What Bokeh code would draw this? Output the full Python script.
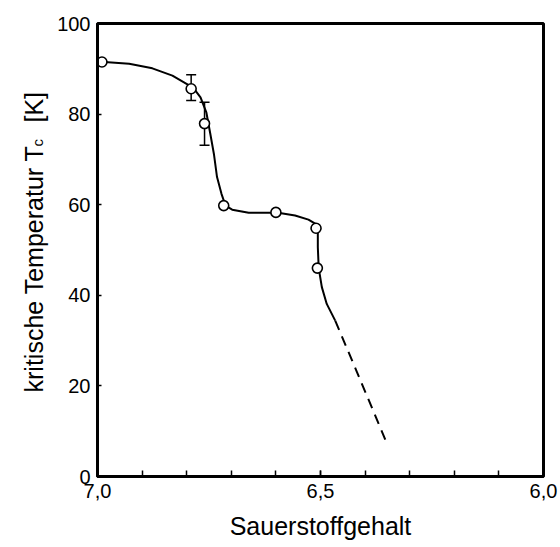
from math import pi
from bokeh.plotting import figure
from bokeh.layouts import row
from bokeh.models import (Range1d, FixedTicker, CustomJSTickFormatter, ColumnDataSource,
                          Whisker, TeeHead, Label)
from bokeh.embed import file_html
from bokeh.resources import INLINE

# measured points (oxygen content, Tc in K)
x_pts = [6.99, 6.79, 6.76, 6.717, 6.60, 6.51, 6.507]
y_pts = [91.5, 85.6, 77.9, 59.8, 58.3, 54.8, 46.0]

# error bars
x_err = [6.79, 6.76]
err_lower = [83.0, 73.1]
err_upper = [88.7, 82.6]

# guide curve (solid part)
x_curve = [7.000, 6.929, 6.877, 6.832, 6.785, 6.769, 6.756, 6.747, 6.739, 6.732,
           6.722, 6.713, 6.698, 6.661, 6.595, 6.557, 6.527, 6.512, 6.506, 6.506,
           6.504, 6.497, 6.486, 6.467]
y_curve = [91.6, 91.1, 90.1, 88.5, 85.8, 83.7, 80.4, 75.6, 71.2, 66.1,
           62.4, 59.8, 58.9, 58.2, 58.2, 57.6, 56.7, 55.8, 54.3, 50.6,
           46.0, 41.8, 38.1, 34.4]

# extrapolated part (dashed)
x_dash = [6.467, 6.418, 6.349]
y_dash = [34.4, 23.0, 6.8]

x_ticks = [7.0, 6.5, 6.0]
x_minor = [7.0, 6.9, 6.8, 6.7, 6.6, 6.5, 6.4, 6.3, 6.2, 6.1, 6.0]
y_ticks = [0, 20, 40, 60, 80, 100]

FONT = "Liberation Sans"

LEFT_W = 50
H = 547

p = figure(width=560 - LEFT_W, height=H,
           x_range=Range1d(7.0, 6.0), y_range=Range1d(0, 100),
           output_backend="svg", toolbar_location=None,
           min_border_left=97 - LEFT_W, min_border_right=17, min_border_top=23,
           min_border_bottom=71)

p.background_fill_color = "white"
p.border_fill_color = "white"
p.outline_line_color = "black"
p.outline_line_width = 3
p.xgrid.visible = False
p.ygrid.visible = False

xa = p.xaxis[0]
xa.ticker = FixedTicker(ticks=x_ticks, minor_ticks=x_minor)
xa.formatter = CustomJSTickFormatter(code="return tick.toFixed(1).replace('.', ',');")
xa.axis_line_width = 3
xa.axis_line_color = "black"
xa.major_tick_in = 6
xa.major_tick_out = 0
xa.minor_tick_in = 6
xa.minor_tick_out = 0
xa.major_tick_line_width = 1.5
xa.minor_tick_line_width = 1.5
xa.major_tick_line_color = "black"
xa.minor_tick_line_color = "black"
xa.major_label_text_font = FONT
xa.major_label_text_font_size = "20px"
xa.major_label_text_color = "black"
xa.major_label_standoff = 7
xa.axis_label = "Sauerstoffgehalt"
xa.axis_label_text_font = FONT
xa.axis_label_text_font_size = "25px"
xa.axis_label_text_font_style = "normal"
xa.axis_label_text_color = "black"
xa.axis_label_standoff = 11

ya = p.yaxis[0]
ya.ticker = FixedTicker(ticks=y_ticks)
ya.axis_line_width = 3
ya.axis_line_color = "black"
ya.major_tick_in = 4
ya.major_tick_out = 0
ya.major_tick_line_width = 1.5
ya.major_tick_line_color = "black"
ya.minor_tick_line_color = None
ya.major_label_text_font = FONT
ya.major_label_text_font_size = "20px"
ya.major_label_text_color = "black"
ya.major_label_standoff = 7

# curve
p.line(x_curve, y_curve, line_color="black", line_width=2)
p.line(x_dash, y_dash, line_color="black", line_width=2, line_dash="10 7")

# error bars
esrc = ColumnDataSource(dict(x=x_err, lower=err_lower, upper=err_upper))
w = Whisker(source=esrc, base="x", lower="lower", upper="upper", dimension="height",
            line_color="black", line_width=1.5, level="underlay",
            upper_head=TeeHead(size=10, line_color="black", line_width=1.5),
            lower_head=TeeHead(size=10, line_color="black", line_width=1.5))
p.add_layout(w)

# data points
p.scatter(x_pts, y_pts, size=10, marker="circle", fill_color="white",
          line_color="black", line_width=1.6)

# narrow side panel carrying the y-axis title (with subscript) as real text
lf = figure(width=LEFT_W, height=H,
            x_range=Range1d(0, LEFT_W), y_range=Range1d(0, H),
            output_backend="svg", toolbar_location=None,
            x_axis_location=None, y_axis_location=None,
            min_border=0, min_border_left=0, min_border_right=0,
            min_border_top=0, min_border_bottom=0)
lf.outline_line_color = None
lf.xgrid.visible = False
lf.ygrid.visible = False
lf.background_fill_color = "white"
lf.border_fill_color = "white"

# screen units measured from the (row-aligned) frame's bottom-left corner
lab_main = Label(x=33, y=84, x_units="screen", y_units="screen",
                 text="kritische Temperatur T", angle=pi / 2,
                 text_font=FONT, text_font_size="25px", text_color="black",
                 text_align="left", text_baseline="alphabetic")
lab_sub = Label(x=37, y=330, x_units="screen", y_units="screen",
                text="c", angle=pi / 2,
                text_font=FONT, text_font_size="15px", text_color="black",
                text_align="left", text_baseline="alphabetic")
lab_unit = Label(x=33, y=354, x_units="screen", y_units="screen",
                 text="[K]", angle=pi / 2,
                 text_font=FONT, text_font_size="25px", text_color="black",
                 text_align="left", text_baseline="alphabetic")
for l in (lab_main, lab_sub, lab_unit):
    lf.add_layout(l)

layout = row(lf, p, spacing=0)
open("out.html", "w").write(file_html(layout, INLINE))
